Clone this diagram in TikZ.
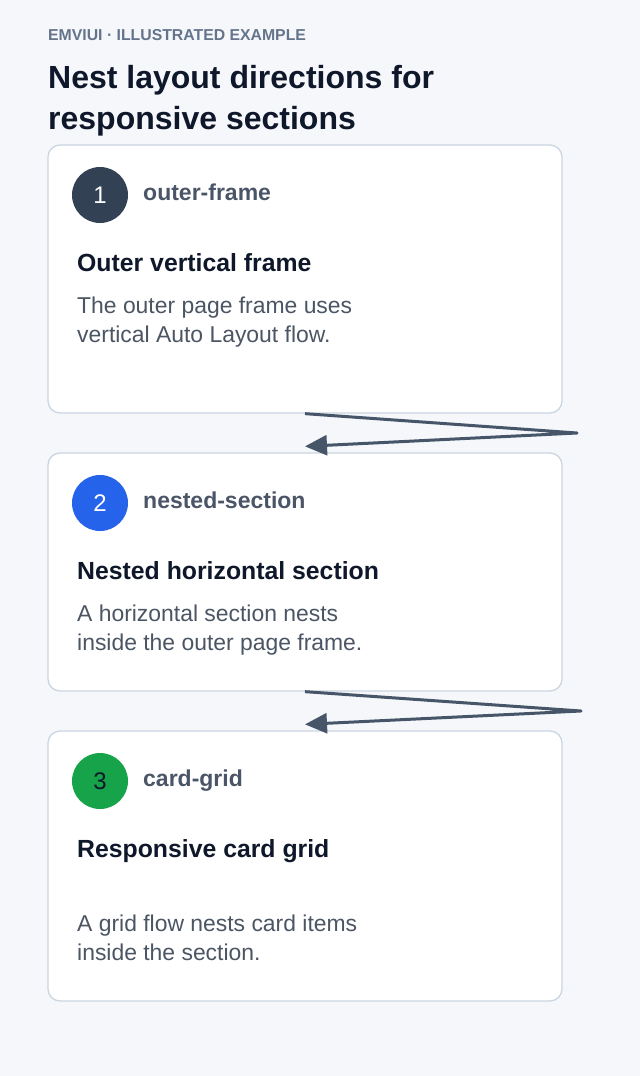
\documentclass[tikz,border=0pt]{standalone}
\usepackage{fontspec}
\setmainfont{Liberation Sans}
\usetikzlibrary{arrows.meta, positioning}

\definecolor{pagebg}{HTML}{F5F7FB}
\definecolor{cardline}{HTML}{CBD5E1}
\definecolor{kicker}{HTML}{64748B}
\definecolor{ink}{HTML}{0F172A}
\definecolor{tagink}{HTML}{4B5568}
\definecolor{bodyink}{HTML}{4B5563}
\definecolor{linkink}{HTML}{475569}
\definecolor{slate}{HTML}{334155}
\definecolor{blue}{HTML}{2563EB}
\definecolor{green}{HTML}{16A34A}

\begin{document}
\begin{tikzpicture}[x=1pt, y=-1pt,
                card/.style={draw=cardline, line width=1.3pt, fill=white, rounded corners=12pt,
                             minimum width=514pt, inner sep=0pt},
                badge/.style={circle, minimum size=56pt, inner sep=0pt, font=\fontsize{24}{24}\selectfont},
                tag/.style={anchor=base west, inner sep=0pt, text=tagink,
                            font=\fontsize{23}{26}\selectfont\bfseries},
                heading/.style={anchor=base west, inner sep=0pt, text=ink,
                                font=\fontsize{24.8}{28}\selectfont\bfseries},
                body/.style={anchor=base west, inner sep=0pt, text=bodyink, align=left,
                             font=\fontsize{22.9}{29}\selectfont},
                link/.style={draw=linkink, line width=3pt, line join=round,
                             -{Triangle[length=22pt, width=20pt]}}]

                % page background and size
                \fill[pagebg] (0,0) rectangle (640,1076);
                \useasboundingbox (0,0) rectangle (640,1076);

                % header (base anchor = last line)
                \node[anchor=base west, inner sep=0pt, text=kicker, font=\fontsize{15.8}{18}\selectfont\bfseries]
                    (kicker) at (48,40) {EMVIUI · ILLUSTRATED EXAMPLE};
                \node[anchor=base west, inner sep=0pt, text=ink, align=left,
                      font=\fontsize{32}{41}\selectfont\bfseries]
                    (title) at (48,129) {Nest layout directions for\\responsive sections};

                % the three cards
                \node[card, minimum height=268pt] (outer) at (305,279) {};
                \node[card, minimum height=238pt] (nested) at (305,572) {};
                \node[card, minimum height=270pt] (grid) at (305,866) {};

                % card 1
                \node[badge, fill=slate, text=white] (b1) at (100,195) {1};
                \node[tag] (t1) at (143,200) {outer-frame};
                \node[heading] (h1) at (77,271) {Outer vertical frame};
                \node[body] (d1) at (77,342) {The outer page frame uses\\vertical Auto Layout flow.};

                % card 2
                \node[badge, fill=blue, text=white] (b2) at (100,503) {2};
                \node[tag] (t2) at (143,508) {nested-section};
                \node[heading] (h2) at (77,579) {Nested horizontal section};
                \node[body] (d2) at (77,650) {A horizontal section nests\\inside the outer page frame.};

                % card 3
                \node[badge, fill=green, text=ink] (b3) at (100,781) {3};
                \node[tag] (t3) at (143,786) {card-grid};
                \node[heading] (h3) at (77,857) {Responsive card grid};
                \node[body] (d3) at (77,960) {A grid flow nests card items\\inside the section.};

                % connectors between cards
                \coordinate (turn1) at (577,433);
                \coordinate (turn2) at (581,711);
                \draw[link] (outer.south) -- (turn1) -- ([yshift=6pt]nested.north);
                \draw[link] (nested.south) -- (turn2) -- ([yshift=6pt]grid.north);
\end{tikzpicture}
\end{document}
